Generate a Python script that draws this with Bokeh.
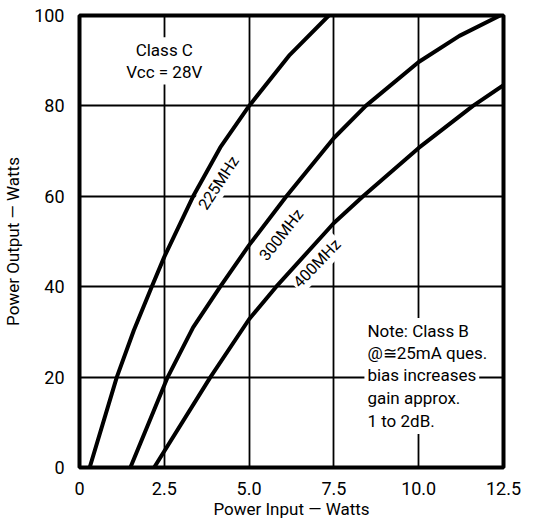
from bokeh.plotting import figure
from bokeh.models import Range1d, FixedTicker
from bokeh.core.properties import value
from bokeh.embed import file_html
from bokeh.resources import INLINE
import math

# Power output vs. power input, Class C, Vcc = 28 V
x_ticks = [0, 2.5, 5.0, 7.5, 10.0, 12.5]
x_tick_labels = ["0", "2.5", "5.0", "7.5", "10.0", "12.5"]
y_ticks = [0, 20, 40, 60, 80, 100]
y_tick_labels = ["0", "20", "40", "60", "80", "100"]

pin_225 = [0.3, 1.1, 1.6, 2.13, 2.5, 3.35, 4.15, 5.0, 6.2, 7.35]
pout_225 = [0, 20, 30.3, 40, 46.6, 60, 70.8, 80, 91.3, 100]

pin_300 = [1.5, 2.6, 3.35, 4.15, 5.0, 6.1, 7.5, 8.44, 10.0, 11.2, 12.4]
pout_300 = [0, 20, 31.0, 40, 49.2, 60, 72.9, 80, 89.7, 95.5, 100]

pin_400 = [2.2, 3.86, 5.0, 5.8, 7.5, 8.36, 10.0, 11.6, 12.5]
pout_400 = [0, 20, 32.8, 40, 54.1, 60, 70.7, 80, 84.6]

curve_names = ["225MHz", "300MHz", "400MHz"]
note_lines = ["Note: Class B", "@\u224525mA ques.", "bias increases",
              "gain approx.", "1 to 2dB."]

FONT = "Liberation Sans Narrow, Roboto, sans-serif"

p = figure(width=534, height=521, output_backend="svg", toolbar_location=None,
           x_range=Range1d(0, 12.5), y_range=Range1d(0, 100),
           min_border_left=59, min_border_right=31,
           min_border_top=15, min_border_bottom=49)
p.background_fill_color = "white"
p.border_fill_color = "white"
p.outline_line_color = "black"
p.outline_line_width = 4

# grid
p.xgrid.ticker = FixedTicker(ticks=[2.5, 5.0, 7.5, 10.0])
p.ygrid.ticker = FixedTicker(ticks=[20, 40, 60, 80])
for g in (p.xgrid, p.ygrid):
    g.grid_line_color = "black"
    g.grid_line_width = 1.8

# axes
p.xaxis.ticker = FixedTicker(ticks=x_ticks)
p.xaxis.major_label_overrides = dict(zip(x_ticks, x_tick_labels))
p.yaxis.ticker = FixedTicker(ticks=y_ticks)
p.yaxis.major_label_overrides = dict(zip(y_ticks, y_tick_labels))
p.xaxis.axis_label = "Power Input \u2014 Watts"
p.yaxis.axis_label = "Power Output \u2014 Watts"
for ax in (p.xaxis, p.yaxis):
    ax.axis_line_color = None
    ax.major_tick_line_color = None
    ax.minor_tick_line_color = None
    ax.major_label_text_font = FONT
    ax.major_label_text_font_size = "18px"
    ax.major_label_text_color = "black"
    ax.axis_label_text_font = FONT
    ax.axis_label_text_font_size = "17px"
    ax.axis_label_text_font_style = "normal"
    ax.axis_label_text_color = "black"
p.xaxis.major_label_standoff = 8
p.xaxis.axis_label_standoff = 1
p.yaxis.major_label_standoff = 9
p.yaxis.axis_label_standoff = 8

# curve labels (white box breaks the grid behind them)
label_x = [4.1, 5.95, 7.0]
label_y = [63.0, 51.5, 45.2]
label_angle = [math.radians(a) for a in (57, 52, 46)]
p.text(x=label_x, y=label_y, text=curve_names, angle=label_angle,
       text_align="center", text_baseline="middle",
       text_font=value(FONT), text_font_size="16px", text_color="black",
       background_fill_color="white", padding=2)

# heading
p.text(x=[2.5, 2.5], y=[92.3, 87.6], text=["Class C", "Vcc = 28V"],
       text_align="center", text_baseline="middle",
       text_font=value(FONT), text_font_size="17px", text_color="black",
       background_fill_color="white", padding=3)

# note block
note_y = [30.2, 25.3, 20.4, 15.4, 10.3]
p.text(x=[8.4] * len(note_lines), y=note_y, text=note_lines,
       text_align="left", text_baseline="middle",
       text_font=value(FONT), text_font_size="17px", text_color="black",
       background_fill_color="white", padding=3)

# curves
for xs, ys in ((pin_225, pout_225), (pin_300, pout_300), (pin_400, pout_400)):
    p.line(xs, ys, line_color="black", line_width=4, line_join="round")

open("out.html", "w").write(file_html(p, INLINE))
